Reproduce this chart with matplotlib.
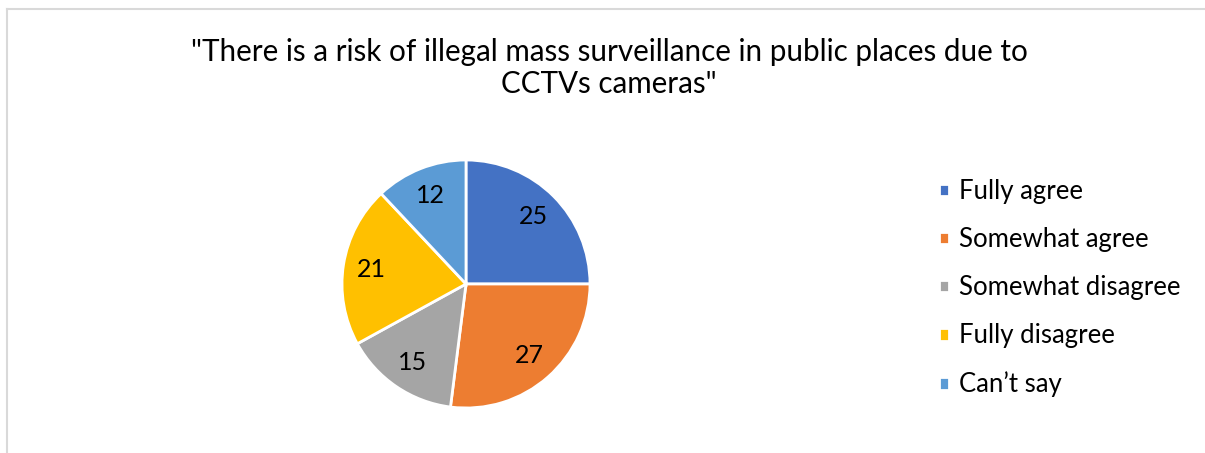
import matplotlib
matplotlib.use('Agg')
import matplotlib.pyplot as plt
from matplotlib.lines import Line2D

plt.rcParams['font.family'] = ['Lato', 'DejaVu Sans']

# survey answers, share of respondents
categories = ['Fully agree', 'Somewhat agree', 'Somewhat disagree', 'Fully disagree', 'Can\u2019t say']
values = [25, 27, 15, 21, 12]
colors = ['#4472C4', '#ED7D31', '#A5A5A5', '#FFC000', '#5B9BD5']
title = '"There is a risk of illegal mass surveillance in public places due to\nCCTVs cameras"'

W, H = 1205, 453
fig = plt.figure(figsize=(W / 100, H / 100), dpi=100)

# chart frame (top and left edges visible)
fig.add_artist(Line2D([7 / W, 1], [1 - 9 / H, 1 - 9 / H], color='#d9d9d9', lw=1.5))
fig.add_artist(Line2D([7 / W, 7 / W], [0, 1 - 9 / H], color='#d9d9d9', lw=1.5))

fig.text(609 / W, 1 - 68 / H, title, ha='center', va='center', fontsize=21.3,
         linespacing=1.2, color='#000000')

# pie axes: centre (466, 284), radius 124 px
r = 124
ax = fig.add_axes([(466 - r) / W, 1 - (284 + r) / H, 2 * r / W, 2 * r / H])
wedges, texts = ax.pie(values, colors=colors, startangle=90, counterclock=False,
                       labels=[str(v) for v in values], labeldistance=0.77,
                       wedgeprops=dict(edgecolor='white', linewidth=2),
                       textprops=dict(fontsize=18, color='#000000', ha='center', va='center'))
ax.set_xlim(-1, 1)
ax.set_ylim(-1, 1)
ax.set_aspect('equal')

fig.legend(wedges, categories, loc='upper left', bbox_to_anchor=(916 / W, 1 - 156 / H),
           frameon=False, fontsize=18.5, handlelength=0.38, handleheight=0.38,
           handletextpad=0.4, labelspacing=0.9)

fig.savefig('out.png', dpi=100)
